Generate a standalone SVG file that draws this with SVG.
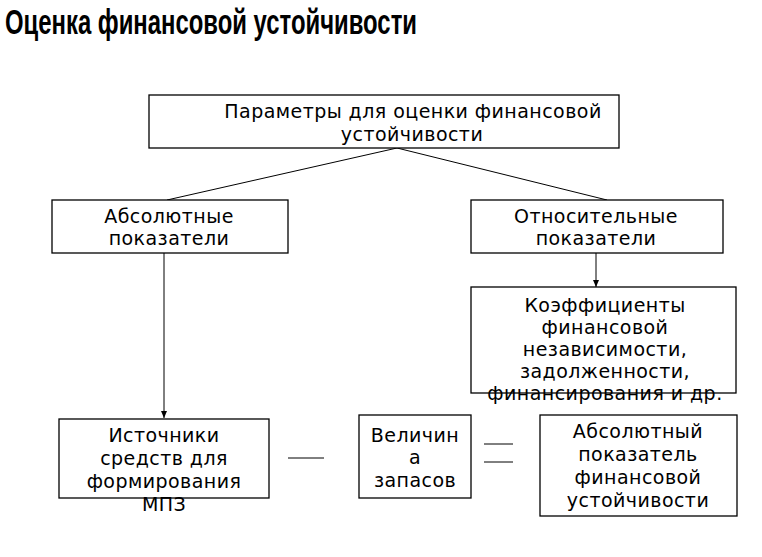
<svg xmlns="http://www.w3.org/2000/svg" width="762" height="557" viewBox="0 0 762 557">
<defs>
<marker id="arr" markerWidth="8" markerHeight="8" refX="7" refY="4" orient="auto" markerUnits="userSpaceOnUse">
<path d="M0,1 L7,4 L0,7 Z" fill="#000"/>
</marker>
<style>
.box{fill:#fff;stroke:#000;stroke-width:1.3}
.t{font-family:"DejaVu Sans",sans-serif;font-size:19px;fill:#000;text-anchor:middle;letter-spacing:0.45px}
.ln{stroke:#000;stroke-width:1;fill:none}
.title{font-family:"Liberation Sans",Arial,sans-serif;font-weight:bold;font-size:35px;fill:#000}
</style>
</defs>
<rect width="762" height="557" fill="#fff"/>
<text class="title" x="5" y="34" textLength="412" lengthAdjust="spacingAndGlyphs">Оценка финансовой устойчивости</text>
<g id="connectors">
<line class="ln" x1="397" y1="148" x2="167" y2="200"/>
<line class="ln" x1="397" y1="148" x2="607" y2="200"/>
<line class="ln" x1="164" y1="253" x2="164" y2="418" marker-end="url(#arr)"/>
<line class="ln" x1="596" y1="253" x2="596" y2="287" marker-end="url(#arr)"/>
<line class="ln" x1="288" y1="458" x2="324" y2="458"/>
<line class="ln" x1="484" y1="444" x2="513" y2="444"/>
<line class="ln" x1="484" y1="462" x2="513" y2="462"/>
</g>
<g id="params">
<rect class="box" x="149" y="95" width="470" height="53"/>
<text class="t" x="413" y="118">Параметры для оценки финансовой</text>
<text class="t" x="412" y="141">устойчивости</text>
</g>
<g id="absolute">
<rect class="box" x="52" y="200" width="236" height="53"/>
<text class="t" x="169" y="223">Абсолютные</text>
<text class="t" x="169" y="245">показатели</text>
</g>
<g id="relative">
<rect class="box" x="471" y="200" width="252" height="53"/>
<text class="t" x="596" y="223">Относительные</text>
<text class="t" x="596" y="245">показатели</text>
</g>
<g id="coefficients">
<rect class="box" x="471" y="287" width="265" height="106"/>
<text class="t" x="605" y="312">Коэффициенты</text>
<text class="t" x="605" y="334">финансовой</text>
<text class="t" x="605" y="356">независимости,</text>
<text class="t" x="605" y="378">задолженности,</text>
<text class="t" x="605" y="400">финансирования и др.</text>
</g>
<g id="sources">
<rect class="box" x="59" y="419" width="210" height="79"/>
<text class="t" x="164" y="442">Источники</text>
<text class="t" x="164" y="465">средств для</text>
<text class="t" x="164" y="488">формирования</text>
<text class="t" x="164" y="511">МПЗ</text>
</g>
<g id="stock">
<rect class="box" x="359" y="415" width="112" height="83"/>
<text class="t" x="415" y="442">Величин</text>
<text class="t" x="415" y="464">а</text>
<text class="t" x="415" y="487">запасов</text>
</g>
<g id="absindicator">
<rect class="box" x="540" y="415" width="197" height="101"/>
<text class="t" x="638" y="438">Абсолютный</text>
<text class="t" x="638" y="461">показатель</text>
<text class="t" x="638" y="484">финансовой</text>
<text class="t" x="638" y="507">устойчивости</text>
</g>
</svg>
